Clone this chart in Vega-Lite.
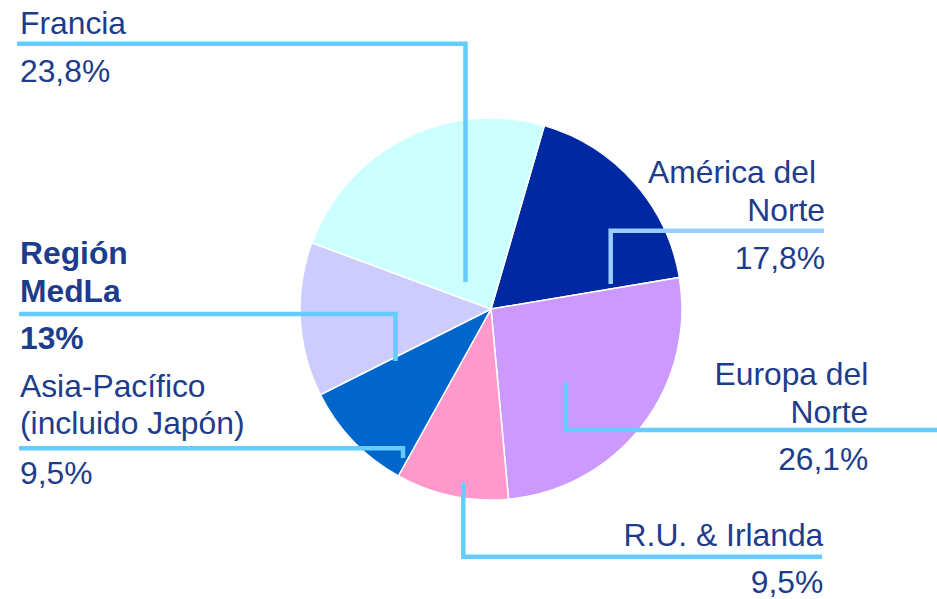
{
  "$schema": "https://vega.github.io/schema/vega-lite/v6.json",
  "width": 892,
  "height": 580,
  "autosize": "none",
  "padding": {"left": 45, "top": 19, "right": 0, "bottom": 0},
  "background": "white",
  "config": {"view": {"stroke": null}},
  "datasets": {
    "slices": [
      {"region": "América del Norte", "idx": 1, "share": 17.8},
      {"region": "Europa del Norte", "idx": 2, "share": 26.1},
      {"region": "R.U. & Irlanda", "idx": 3, "share": 9.5},
      {"region": "Asia-Pacífico", "idx": 4, "share": 9.5},
      {"region": "Región MedLa", "idx": 5, "share": 13.0},
      {"region": "Francia", "idx": 6, "share": 23.8}
    ],
    "leaders": [
      {"region": "Francia", "seq": 1, "x": -474, "y": 265.3},
      {"region": "Francia", "seq": 2, "x": -25.5, "y": 265.3},
      {"region": "Francia", "seq": 3, "x": -25.5, "y": 27},
      {"region": "Región MedLa", "seq": 1, "x": -472, "y": -5},
      {"region": "Región MedLa", "seq": 2, "x": -95.5, "y": -5},
      {"region": "Región MedLa", "seq": 3, "x": -95.5, "y": -52},
      {"region": "Asia-Pacífico", "seq": 1, "x": -472, "y": -139.3},
      {"region": "Asia-Pacífico", "seq": 2, "x": -88, "y": -139.3},
      {"region": "Asia-Pacífico", "seq": 3, "x": -88, "y": -149},
      {"region": "América del Norte", "seq": 1, "x": 119.7, "y": 25},
      {"region": "América del Norte", "seq": 2, "x": 119.7, "y": 78.3},
      {"region": "América del Norte", "seq": 3, "x": 333, "y": 78.3},
      {"region": "Europa del Norte", "seq": 1, "x": 75, "y": -73},
      {"region": "Europa del Norte", "seq": 2, "x": 75, "y": -121},
      {"region": "Europa del Norte", "seq": 3, "x": 446, "y": -121},
      {"region": "R.U. & Irlanda", "seq": 1, "x": -27.7, "y": -174},
      {"region": "R.U. & Irlanda", "seq": 2, "x": -27.7, "y": -247.7},
      {"region": "R.U. & Irlanda", "seq": 3, "x": 331, "y": -247.7}
    ],
    "labels": [
      {"region": "Francia", "label": "Francia", "x": -471, "y": 275},
      {"region": "Francia", "label": "23,8%", "x": -471, "y": 227},
      {"region": "Región MedLa", "label": "Región", "x": -471, "y": 44.7},
      {"region": "Región MedLa", "label": "MedLa", "x": -471, "y": 7.3},
      {"region": "Región MedLa", "label": "13%", "x": -471, "y": -40.3},
      {"region": "Asia-Pacífico", "label": "Asia-Pacífico", "x": -471, "y": -87.7},
      {"region": "Asia-Pacífico", "label": "(incluido Japón)", "x": -471, "y": -125},
      {"region": "Asia-Pacífico", "label": "9,5%", "x": -471, "y": -175.3},
      {"region": "América del Norte", "label": "América del", "x": 325, "y": 125.7},
      {"region": "América del Norte", "label": "Norte", "x": 334, "y": 88},
      {"region": "América del Norte", "label": "17,8%", "x": 334, "y": 40},
      {"region": "Europa del Norte", "label": "Europa del", "x": 377.3, "y": -76},
      {"region": "Europa del Norte", "label": "Norte", "x": 377.3, "y": -114.3},
      {"region": "Europa del Norte", "label": "26,1%", "x": 377.3, "y": -161},
      {"region": "R.U. & Irlanda", "label": "R.U. & Irlanda", "x": 332.3, "y": -237},
      {"region": "R.U. & Irlanda", "label": "9,5%", "x": 332.3, "y": -284}
    ]
  },
  "layer": [
    {
      "data": {"name": "slices"},
      "mark": {"type": "arc", "radius": 191, "stroke": "white", "strokeWidth": 1.5},
      "encoding": {
        "theta": {"field": "share", "type": "quantitative", "stack": true, "scale": {"range": [0.283, 6.5662]}},
        "order": {"field": "idx", "type": "quantitative"},
        "fill": {
          "field": "region",
          "type": "nominal",
          "legend": null,
          "scale": {
            "domain": ["América del Norte", "Europa del Norte", "R.U. & Irlanda", "Asia-Pacífico", "Región MedLa", "Francia"],
            "range": ["#0028A0", "#CC99FF", "#FF99CC", "#0066CC", "#CCCCFF", "#CCFFFF"]
          }
        }
      }
    },
    {
      "data": {"name": "leaders"},
      "mark": {"type": "line", "strokeWidth": 4.5, "strokeCap": "butt", "strokeJoin": "miter"},
      "encoding": {
        "x": {"field": "x", "type": "quantitative", "axis": null, "scale": {"domain": [-446, 446], "nice": false, "zero": false}},
        "y": {"field": "y", "type": "quantitative", "axis": null, "scale": {"domain": [-290, 290], "nice": false, "zero": false}},
        "order": {"field": "seq", "type": "quantitative"},
        "detail": {"field": "region", "type": "nominal"},
        "stroke": {
          "field": "region",
          "type": "nominal",
          "legend": null,
          "scale": {
            "domain": ["América del Norte", "Europa del Norte", "R.U. & Irlanda", "Asia-Pacífico", "Región MedLa", "Francia"],
            "range": ["#99CCFF", "#66CCFF", "#66CCFF", "#66CCFF", "#66CCFF", "#66CCFF"]
          }
        }
      }
    },
    {
      "data": {"name": "labels"},
      "transform": [{"filter": {"field": "region", "oneOf": ["Francia", "Asia-Pacífico"]}}],
      "mark": {"type": "text", "align": "left", "baseline": "alphabetic", "font": "Liberation Sans", "fontSize": 31.8, "color": "#1E3C8C"},
      "encoding": {
        "x": {"field": "x", "type": "quantitative"},
        "y": {"field": "y", "type": "quantitative"},
        "text": {"field": "label", "type": "nominal"}
      }
    },
    {
      "data": {"name": "labels"},
      "transform": [{"filter": {"field": "region", "oneOf": ["Región MedLa"]}}],
      "mark": {"type": "text", "align": "left", "baseline": "alphabetic", "font": "Liberation Sans", "fontSize": 31.8, "fontWeight": "bold", "color": "#1E3C8C"},
      "encoding": {
        "x": {"field": "x", "type": "quantitative"},
        "y": {"field": "y", "type": "quantitative"},
        "text": {"field": "label", "type": "nominal"}
      }
    },
    {
      "data": {"name": "labels"},
      "transform": [{"filter": {"field": "region", "oneOf": ["América del Norte", "Europa del Norte", "R.U. & Irlanda"]}}],
      "mark": {"type": "text", "align": "right", "baseline": "alphabetic", "font": "Liberation Sans", "fontSize": 31.8, "color": "#1E3C8C"},
      "encoding": {
        "x": {"field": "x", "type": "quantitative"},
        "y": {"field": "y", "type": "quantitative"},
        "text": {"field": "label", "type": "nominal"}
      }
    }
  ]
}
